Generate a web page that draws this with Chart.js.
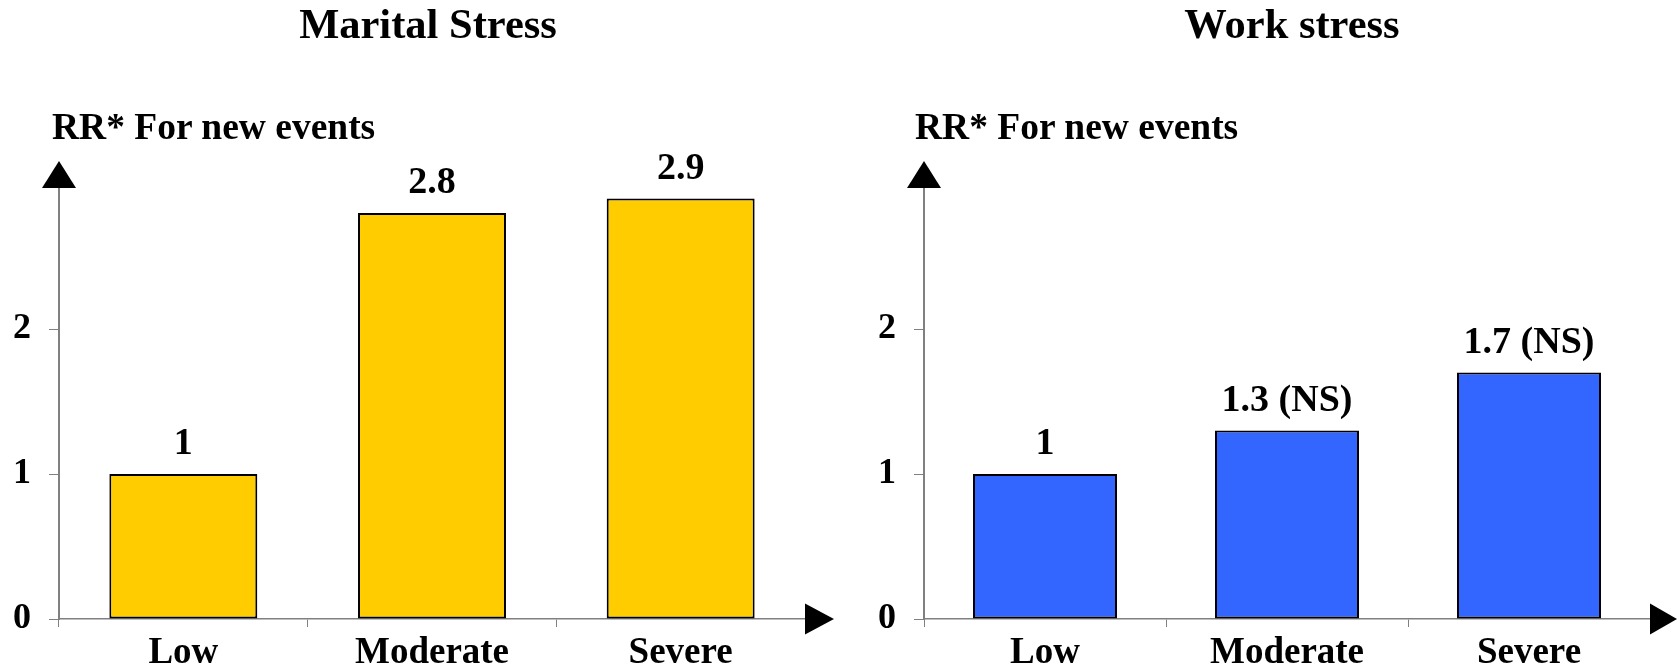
<!DOCTYPE html>
<html>
<head>
<meta charset="utf-8">
<script src="https://cdn.jsdelivr.net/npm/chart.js@4"></script>
<style>
  html, body { margin: 0; padding: 0; background: #fff; }
  body { width: 1679px; height: 667px; position: relative; overflow: hidden; }
  canvas { position: absolute; top: 0; }
  .ttl { position: absolute; top: 3px; width: 600px; text-align: center; white-space: nowrap;
         font: bold 42.5px/42.5px 'Liberation Serif', 'Times New Roman', serif; color: #000; z-index: 2; }
  .cap { position: absolute; top: 108px; white-space: nowrap;
         font: bold 37.5px/37.5px 'Liberation Serif', 'Times New Roman', serif; color: #000; z-index: 2; }
</style>
</head>
<body>
<div class="ttl" id="t1" style="left:128px"></div>
<div class="ttl" id="t2" style="left:992px"></div>
<div class="cap" id="cap1" style="left:52px"></div>
<div class="cap" id="cap2" style="left:915px"></div>
<canvas id="c1" width="840" height="667" style="left:0px"></canvas>
<canvas id="c2" width="839" height="667" style="left:840px"></canvas>
<script>
// ---- data ----
const categories = ['Low', 'Moderate', 'Severe'];
const maritalTitle = 'Marital Stress';
const maritalRR = [1, 2.8, 2.9];
const maritalNote = ['', '', ''];
const workTitle = 'Work stress';
const workRR = [1, 1.3, 1.7];
const workNote = ['', ' (NS)', ' (NS)'];
const yTickValues = [0, 1, 2];
const yAxisCaption = 'RR* For new events';

document.getElementById('t1').textContent = maritalTitle;
document.getElementById('t2').textContent = workTitle;
document.getElementById('cap1').textContent = yAxisCaption;
document.getElementById('cap2').textContent = yAxisCaption;

const SERIF = "'Liberation Serif', 'Times New Roman', serif";
const AXIS_GREY = '#808080';

const decorPlugin = {
  id: 'decor',
  afterDatasetsDraw(chart, args, opts) {
    const ctx = chart.ctx;
    const meta = chart.getDatasetMeta(0);
    ctx.save();
    ctx.fillStyle = '#000';
    ctx.font = 'bold 38px ' + SERIF;
    ctx.textAlign = 'center';
    ctx.textBaseline = 'alphabetic';
    meta.data.forEach((bar, i) => {
      const v = chart.data.datasets[0].data[i];
      ctx.fillText(String(v) + opts.notes[i], bar.x, bar.y - 20);
    });
    ctx.restore();
  },
  afterDraw(chart, args, opts) {
    const ctx = chart.ctx;
    const a = chart.chartArea;
    ctx.save();
    ctx.fillStyle = '#000';
    // y-axis arrow
    ctx.beginPath();
    ctx.moveTo(a.left, a.top - 23);
    ctx.lineTo(a.left - 17, a.top + 4);
    ctx.lineTo(a.left + 17, a.top + 4);
    ctx.closePath();
    ctx.fill();
    // x-axis arrow
    ctx.beginPath();
    ctx.moveTo(a.right + opts.arrowLen, a.bottom);
    ctx.lineTo(a.right, a.bottom - 15.5);
    ctx.lineTo(a.right, a.bottom + 15.5);
    ctx.closePath();
    ctx.fill();
    ctx.restore();
  }
};

function makeChart(id, values, notes, color, yWidth, padRight, arrowLen) {
  return new Chart(document.getElementById(id), {
    type: 'bar',
    data: {
      labels: categories,
      datasets: [{
        data: values,
        backgroundColor: color,
        borderColor: '#000',
        borderWidth: 2,
        borderSkipped: false,
        categoryPercentage: 1,
        barPercentage: 0.595
      }]
    },
    options: {
      responsive: false,
      animation: false,
      events: [],
      layout: { padding: { left: 0, right: padRight, top: 184, bottom: 0 } },
      plugins: {
        legend: { display: false },
        tooltip: { enabled: false },
        title: { display: false },
        decor: { notes: notes, arrowLen: arrowLen }
      },
      scales: {
        x: {
          grid: { display: true, drawOnChartArea: false, drawTicks: true, tickLength: 8, color: AXIS_GREY, lineWidth: 1, offset: true },
          border: { display: true, color: AXIS_GREY, width: 1.5 },
          ticks: { color: '#000', padding: 4, font: { family: SERIF, size: 37, weight: 'bold' }, maxRotation: 0 },
          afterFit(scale) { scale.height = 48; }
        },
        y: {
          min: 0,
          max: 3,
          grid: { display: true, drawOnChartArea: false, drawTicks: true, tickLength: 10, color: AXIS_GREY, lineWidth: 1 },
          border: { display: true, color: AXIS_GREY, width: 2 },
          ticks: { stepSize: 1, color: '#000', padding: 18, font: { family: SERIF, size: 36, weight: 'bold' } },
          afterBuildTicks(scale) { scale.ticks = yTickValues.map(v => ({ value: v })); },
          afterFit(scale) { scale.width = yWidth; }
        }
      }
    },
    plugins: [decorPlugin]
  });
}

makeChart('c1', maritalRR, maritalNote, '#FFCC00', 59, 35, 29);
makeChart('c2', workRR, workNote, '#3366FF', 84, 29, 27);
</script>
</body>
</html>
